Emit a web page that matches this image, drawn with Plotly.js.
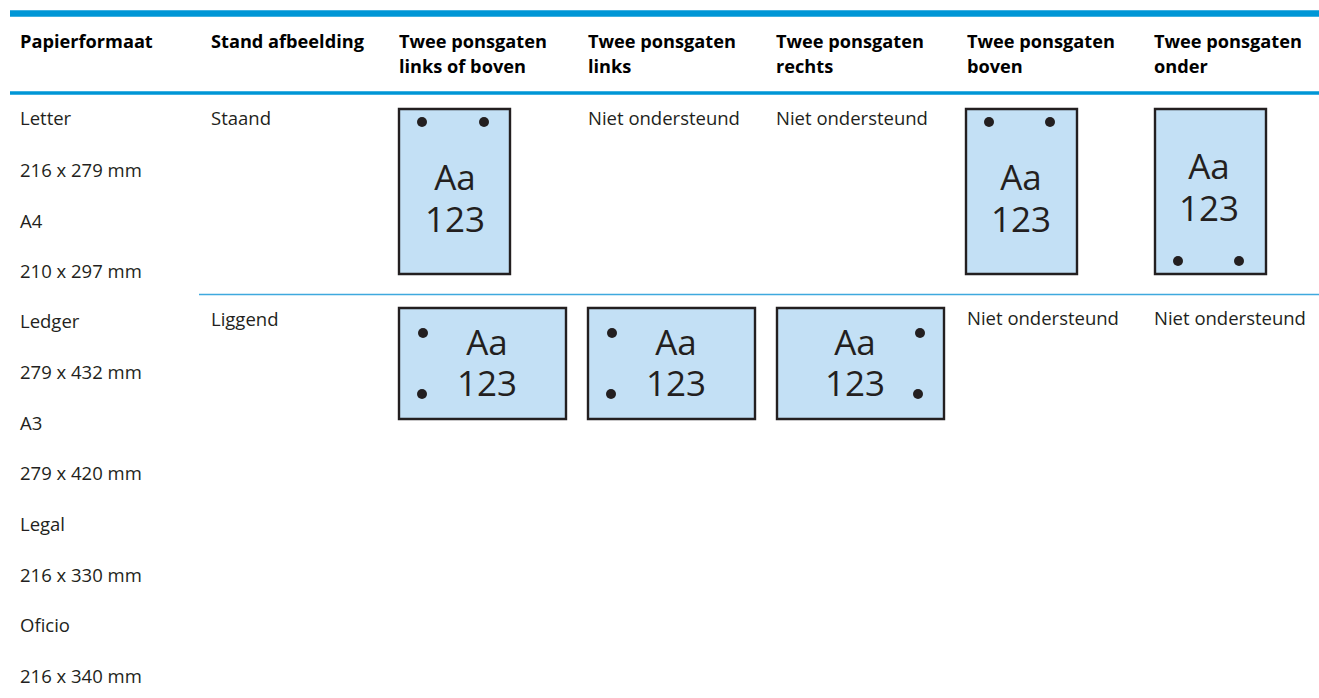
<!DOCTYPE html>
<html><head><meta charset="utf-8">
<script src="https://cdn.plot.ly/plotly-3.0.1.min.js"></script>
<style>html,body{margin:0;padding:0;background:#fff;overflow:hidden}</style>
</head><body><div id="c" style="width:1319px;height:698px"></div>
<script>
const headerLine1 = ["Papierformaat","Stand afbeelding","Twee ponsgaten","Twee ponsgaten","Twee ponsgaten","Twee ponsgaten","Twee ponsgaten"];
const headerLine2 = ["links of boven","links","rechts","boven","onder"];
const paperSizes = ["Letter","216 x 279 mm","A4","210 x 297 mm","Ledger","279 x 432 mm","A3","279 x 420 mm","Legal","216 x 330 mm","Oficio","216 x 340 mm"];
const orientations = ["Staand","Liggend"];
const unsupported = "Niet ondersteund";
const pageLetters = "Aa";
const pageDigits = "123";

const colX = [20,211,399,588,776,967,1154];
const font = "'Open Sans','Noto Sans',sans-serif";
const blue = "#0096d6", paper = "#c3e0f5", ink = "#231f20";

const shapes = [];
const line = (x0,x1,y,w,c)=>shapes.push({type:"line",xref:"x",yref:"y",x0,x1,y0:y,y1:y,line:{color:c,width:w},layer:"below"});
line(10,1319,13.5,6.5,blue);
line(10,1319,93,3.5,blue);
line(199,1319,294.5,1.5,"#3fa9de");

const page=(x0,y0,x1,y1)=>shapes.push({type:"rect",xref:"x",yref:"y",x0,x1,y0,y1,fillcolor:paper,line:{color:ink,width:2.4},layer:"below"});
[[399,109,510,274],[966,109,1077,274],[1155,109,1266,274],[399,308,566,419],[588,308,755,419],[777,308,944,419]].forEach(p=>page(...p));

const labelX=[455,1021,1209,487,676,855];
const lettersY=[181,181,170,346,346,346];
const digitsY=[223,223,212,387,387,387];
const holeX=[422,484,989,1050,1178,1239,423,422,612,611,920,918];
const holeY=[122,122,122,122,261,261,333,394,333,394,333,394];

const traces=[];
const txt=(x,y,text,size,bold,pos)=>traces.push({type:"scatter",mode:"text",x,y,text,textposition:pos||"middle right",
  textfont:{family:font,size,color:bold?"#000":ink,weight:bold?700:400},hoverinfo:"skip",cliponaxis:false});
txt(colX,colX.map(()=>43),headerLine1,18.2,true);
txt(colX.slice(2),colX.slice(2).map(()=>68),headerLine2,18.2,true);
txt(paperSizes.map(()=>20),[120,172,223,273,323,374,425,475,526,577,627,678],paperSizes,18.5,false);
txt([211,211],[120,321],orientations,18.5,false);
txt([588,776,967,1154],[120,120,320,320],[unsupported,unsupported,unsupported,unsupported],18.5,false);
txt(labelX,lettersY,labelX.map(()=>pageLetters),35,false,"middle center");
txt(labelX,digitsY,labelX.map(()=>pageDigits),35,false,"middle center");
traces.push({type:"scatter",mode:"markers",x:holeX,y:holeY,marker:{size:10,color:ink,line:{width:0}},hoverinfo:"skip"});

Plotly.newPlot("c",traces,{width:1319,height:698,margin:{l:0,r:0,t:0,b:0},showlegend:false,paper_bgcolor:"#fff",plot_bgcolor:"#fff",
 xaxis:{range:[0,1319],visible:false,fixedrange:true},yaxis:{range:[698,0],visible:false,fixedrange:true},shapes},{staticPlot:true,displayModeBar:false});
</script></body></html>
